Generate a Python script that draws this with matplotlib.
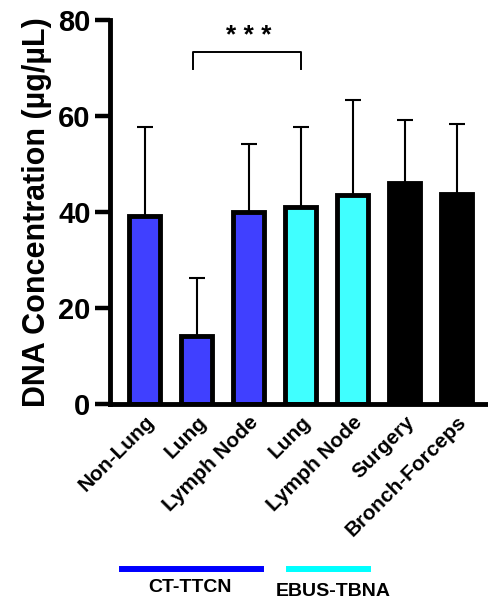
import matplotlib
matplotlib.use("Agg")
import matplotlib.pyplot as plt
from matplotlib.lines import Line2D

plt.rcParams['font.family'] = ['Liberation Sans', 'DejaVu Sans']
plt.rcParams['font.weight'] = 'bold'

categories = ["Non-Lung", "Lung", "Lymph Node", "Lung", "Lymph Node", "Surgery", "Bronch-Forceps"]
means = [39.2, 14.2, 39.9, 41.0, 43.5, 46.0, 43.7]
upper_err = [18.5, 12.1, 14.3, 16.8, 19.8, 13.2, 14.6]
bar_colors = ["#4040FF", "#4040FF", "#4040FF", "#40FFFF", "#40FFFF", "#000000", "#000000"]
groups = ["CT-TTCN", "EBUS-TBNA"]
group_colors = ["#0000FF", "#00FFFF"]
yticks = [0, 20, 40, 60, 80]
sig_pair = (1, 3)
sig_label = "* * *"
sig_y = 73.3
sig_leg = 69.8

W, H = 489, 601
fig = plt.figure(figsize=(W / 100, H / 100), dpi=100)
ax = fig.add_axes([110 / W, (H - 404) / H, 379 / W, 384 / H])

x = list(range(len(categories)))
ax.bar(x, means, width=0.6, color=bar_colors, edgecolor="black", linewidth=3.5, zorder=2)
ax.errorbar(x, means, yerr=[[0] * len(means), upper_err], fmt="none", ecolor="black",
            elinewidth=1.5, capsize=5.5, capthick=1.5, zorder=1)

ax.set_xlim(-0.67, 6.62)
ax.set_ylim(0, 80)
ax.set_yticks(yticks)
ax.set_yticklabels([str(v) for v in yticks], fontsize=21, fontweight="bold")
ax.set_xticks(x)
ax.set_xticklabels(categories, rotation=45, ha="right", rotation_mode="anchor",
                   fontsize=15, fontweight="bold")
ax.tick_params(axis="y", length=11, width=3.2, pad=3)
ax.tick_params(axis="x", length=0, pad=6)
for s in ["top", "right"]:
    ax.spines[s].set_visible(False)
for s in ["left", "bottom"]:
    ax.spines[s].set_linewidth(3.5)
ax.set_ylabel("DNA Concentration (µg/µL)", fontsize=22, fontweight="bold", labelpad=4)

# significance bracket
x1, x2 = sig_pair
ax.plot([x1 - 0.07, x1 - 0.07, x2, x2], [sig_leg, sig_y, sig_y, sig_leg], color="black",
        lw=1.4, clip_on=False)
ax.text((x1 + x2) / 2, sig_y + 0.8, sig_label, ha="center", va="bottom", fontsize=19,
        fontweight="bold")

# group legend below
fig.add_artist(Line2D([122 / W, 261 / W], [(H - 569) / H] * 2, color=group_colors[0], lw=4.3))
fig.add_artist(Line2D([289 / W, 368 / W], [(H - 569) / H] * 2, color=group_colors[1], lw=4.3))
fig.text(190 / W, (H - 588) / H, groups[0], ha="center", va="center", fontsize=14, fontweight="bold")
fig.text(333 / W, (H - 591) / H, groups[1], ha="center", va="center", fontsize=14, fontweight="bold")

fig.savefig("out.png", dpi=100)
